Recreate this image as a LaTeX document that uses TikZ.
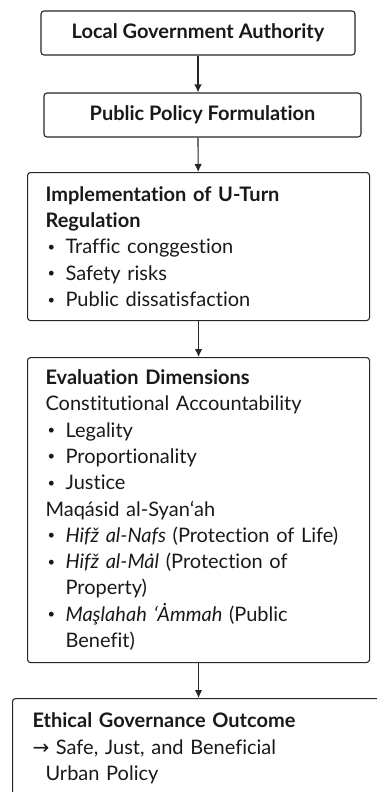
\documentclass[tikz,border=0pt]{standalone}
\usepackage{fontspec}
\setmainfont{Lato}[Ligatures=NoCommon]
\newfontfamily\arrowfont{DejaVu Sans}
\usetikzlibrary{arrows.meta}
\newcommand{\bul}{\makebox[20pt][l]{\hspace{2pt}\raisebox{2.5pt}{\fontsize{13}{13}\selectfont\textbullet}}}
\newcommand{\hang}{\hspace*{20pt}}

\begin{document}
\begin{tikzpicture}[x=1pt,y=-1pt,>={Latex[length=8pt,width=7.5pt]},
	box/.style = {draw=black!85,line width=1.1pt,rounded corners=3pt,inner xsep=18pt,text=black!90,font=\fontsize{20}{26.3}\selectfont},
	head/.style = {box,font=\fontsize{20}{26.3}\selectfont\bfseries},
	listbox/.style = {box,align=left,anchor=north west,text width=306pt},
	flow/.style = {->,draw=black!85,line width=1.1pt}
	]
	\useasboundingbox (0,0) rectangle (377,792);
	%BOXES
	\node[head,minimum width=314pt,minimum height=44pt] (@auth) at (198,33) {Local Government Authority};
	\node[head,minimum width=317pt,minimum height=44pt] (@policy) at (202.5,115) {Public Policy Formulation};
	\node[listbox,minimum height=148pt] (@impl) at (27,172) {\textbf{Implementation of U-Turn}\\
		\textbf{Regulation}\\
		\bul Traffic conggestion\\
		\bul Safety risks\\
		\bul Public dissatisfaction};
	\node[listbox,minimum height=305pt] (@eval) at (27,357) {\textbf{Evaluation Dimensions}\\
		Constitutional Accountability\\
		\bul Legality\\
		\bul Proportionality\\
		\bul Justice\\
		Maqásid al-Syanʻah\\
		\mbox{\bul \textit{Hifž al-Nafs} (Protection of Life)}\\
		\bul \textit{Hifž al-Mȧl} (Protection of\\
		\hang Property)\\
		\bul \textit{Maşlahah ʻȦmmah} (Public\\
		\hang Benefit)};
	\node[listbox,inner xsep=20pt,inner ysep=14.5pt,text width=360pt] (@outcome) at (12,698) {\textbf{Ethical Governance Outcome}\\
		{\arrowfont →} Safe, Just, and Beneficial\\
		\hspace*{13pt}Urban Policy};
	%ARROWS
	\draw[flow] (@auth) -- (@auth |- @policy.north);
	\draw[flow] (@auth |- @policy.south) -- (@impl);
	\draw[flow] (@impl) -- (@eval);
	\draw[flow] (@eval) -- (@eval |- @outcome.north);
\end{tikzpicture}
\end{document}
